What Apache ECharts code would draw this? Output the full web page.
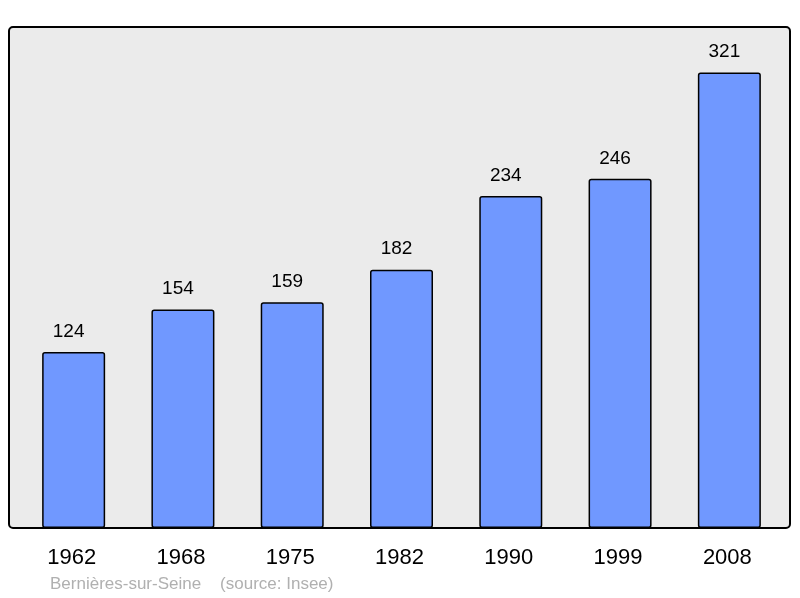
<!DOCTYPE html>
<html>
<head>
<meta charset="utf-8">
<script src="https://cdn.jsdelivr.net/npm/echarts@6/dist/echarts.min.js"></script>
<style>
  html, body { margin: 0; padding: 0; background: #fff; }
  #main { width: 800px; height: 598px; }
</style>
</head>
<body>
<div id="main"></div>
<script>
// population par recensement
const years = ['1962', '1968', '1975', '1982', '1990', '1999', '2008'];
const population = [124, 154, 159, 182, 234, 246, 321];

const chart = echarts.init(document.getElementById('main'));

chart.setOption({
  animation: false,
  textStyle: { fontFamily: 'Liberation Sans, Arial, sans-serif' },
  graphic: [
    {
      type: 'rect',
      z: -10,
      shape: { x: 9, y: 27, width: 781, height: 501, r: 4 },
      style: { fill: '#ebebeb', stroke: '#000', lineWidth: 2 }
    },
    {
      type: 'text',
      left: 50,
      top: 576,
      style: {
        text: 'Bernières-sur-Seine    (source: Insee)',
        fill: '#b0b0b0',
        font: '17px Liberation Sans, Arial, sans-serif'
      }
    }
  ],
  grid: { left: 19, right: 16, top: 27, bottom: 70 },
  xAxis: {
    type: 'category',
    data: years,
    axisLine: { show: false },
    axisTick: { show: false },
    axisLabel: { color: '#000', fontSize: 22, margin: 19, padding: [0, 4, 0, 0] }
  },
  yAxis: {
    type: 'value',
    min: 0,
    max: 353,
    show: false,
    splitLine: { show: false }
  },
  series: [{
    type: 'bar',
    data: population,
    barWidth: 63,
    itemStyle: {
      color: '#7098ff',
      borderColor: '#000',
      borderWidth: 1.5,
      borderRadius: 2
    },
    label: {
      show: true,
      position: 'top',
      distance: 11,
      offset: [-5, 0],
      color: '#000',
      fontSize: 19
    }
  }]
});
</script>
</body>
</html>
